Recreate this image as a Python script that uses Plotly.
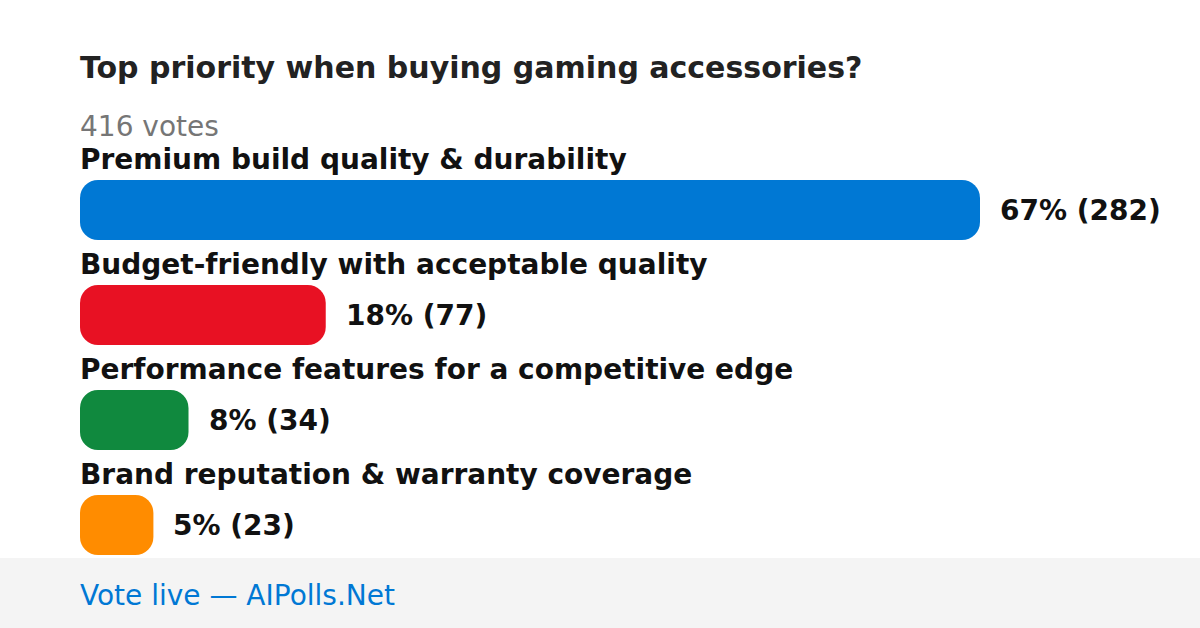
import plotly.graph_objects as go

title = "Top priority when buying gaming accessories?"
total_votes_label = "416 votes"
categories = [
    "Premium build quality & durability",
    "Budget-friendly with acceptable quality",
    "Performance features for a competitive edge",
    "Brand reputation & warranty coverage",
]
votes = [282, 77, 34, 23]
percents = [67, 18, 8, 5]
colors = ["#0078d4", "#e81123", "#10893e", "#ff8c00"]
footer = "Vote live — AIPolls.Net"

W, H = 1200, 628
ML, MR, MT, MB = 80, 220, 150, 50
plot_w = W - ML - MR
plot_h = H - MT - MB
slot = 105.0
first_center = 210.0
top_units = -(first_center - MT) / slot
bottom_units = top_units + plot_h / slot

FONT = "DejaVu Sans"
ypos = list(range(len(categories)))

fig = go.Figure()
# explicit base makes plotly round both ends of each bar
fig.add_trace(go.Bar(
    x=votes, base=[0] * len(votes), y=ypos, orientation="h",
    marker=dict(color=colors, line=dict(width=0)),
    width=60 / slot, hoverinfo="skip", cliponaxis=False,
))

annotations = []
for i, (cat, v, p) in enumerate(zip(categories, votes, percents)):
    annotations.append(dict(
        x=0, y=i, xref="x", yref="y", text=f"<b>{cat}</b>", showarrow=False,
        xanchor="left", yanchor="middle", yshift=51, xshift=-2,
        font=dict(family=FONT, size=28, color="#111111"),
    ))
    annotations.append(dict(
        x=v, y=i, xref="x", yref="y", text=f"<b>{p}% ({v})</b>", showarrow=False,
        xanchor="left", yanchor="middle", xshift=18,
        font=dict(family=FONT, size=28, color="#111111"),
    ))

def py(pix):
    return (H - MB - pix) / plot_h

def px(pix):
    return (pix - ML) / plot_w

annotations.append(dict(
    x=px(78), y=py(68), xref="paper", yref="paper", text=f"<b>{title}</b>",
    showarrow=False, xanchor="left", yanchor="middle",
    font=dict(family=FONT, size=30, color="#222222"),
))
annotations.append(dict(
    x=px(78), y=py(127), xref="paper", yref="paper", text=total_votes_label,
    showarrow=False, xanchor="left", yanchor="middle",
    font=dict(family=FONT, size=28, color="#767676"),
))
annotations.append(dict(
    x=px(78), y=py(595), xref="paper", yref="paper", text=footer,
    showarrow=False, xanchor="left", yanchor="middle",
    font=dict(family=FONT, size=28, color="#0078d4"),
))

fig.update_layout(
    width=W, height=H,
    margin=dict(l=ML, r=MR, t=MT, b=MB, pad=0),
    paper_bgcolor="#ffffff", plot_bgcolor="rgba(0,0,0,0)",
    barcornerradius=18,
    showlegend=False,
    xaxis=dict(range=[0, max(votes)], visible=False, fixedrange=True),
    yaxis=dict(range=[bottom_units, top_units], visible=False, fixedrange=True),
    annotations=annotations,
    shapes=[dict(
        type="rect", xref="paper", yref="paper", layer="below",
        x0=px(0), x1=px(W), y0=py(628), y1=py(558),
        fillcolor="#f4f4f4", line=dict(width=0),
    )],
    font=dict(family=FONT),
)

fig.write_html(
    "out.html",
    config={"displayModeBar": False},
    post_script="document.body.style.margin='0';document.body.style.overflow='hidden';",
)
